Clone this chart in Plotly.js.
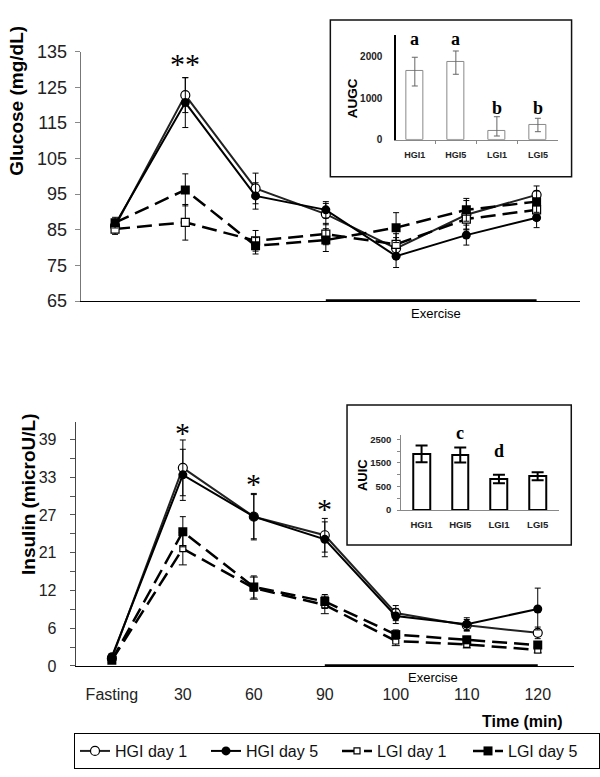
<!DOCTYPE html>
<html>
<head>
<meta charset="utf-8">
<script src="https://cdn.plot.ly/plotly-3.0.1.min.js"></script>
<style>
  body { margin: 0; background: #fff; }
  #myDiv { width: 600px; height: 777px; }
</style>
</head>
<body>
<div id="myDiv"></div>
<script>
// time points (x categories, shared by both panels)
var timeLabels = ['Fasting', '30', '60', '90', '100', '110', '120'];
var exerciseSpan = ['90', '120'];

// glucose, mg/dL
var gluHGI1 = [86.0, 122.8, 96.6, 89.4, 79.8, 89.2, 94.8];
var gluHGI1Err = [1.5, 4.9, 4.3, 3.0, 3.0, 4.0, 2.5];
var gluHGI5 = [86.5, 120.7, 94.5, 90.6, 77.6, 83.5, 88.4];
var gluHGI5Err = [1.5, 7.0, 3.7, 2.3, 3.2, 2.8, 2.8];
var gluLGI1 = [85.2, 87.1, 81.9, 83.8, 80.9, 88.0, 90.6];
var gluLGI1Err = [1.5, 5.0, 2.9, 3.0, 3.0, 3.0, 3.0];
var gluLGI5 = [87.0, 96.2, 80.5, 82.1, 85.6, 90.6, 92.9];
var gluLGI5Err = [1.5, 4.5, 2.3, 3.2, 4.2, 3.2, 3.0];

// insulin (plotted on the evenly spaced axis, ticks relabelled below)
var insHGI1 = [1.3, 34.1, 25.7, 22.5, 9.1, 7.0, 5.7];
var insHGI1Err = [0.5, 4.8, 4.0, 2.9, 1.3, 1.0, 1.0];
var insHGI5 = [1.6, 32.9, 25.7, 21.8, 8.6, 7.2, 9.8];
var insHGI5Err = [0.5, 4.4, 3.8, 3.0, 1.3, 1.1, 3.6];
var insLGI1 = [1.0, 20.2, 13.4, 10.5, 4.3, 3.7, 2.75];
var insLGI1Err = [0.4, 2.8, 1.9, 1.5, 0.8, 0.6, 0.5];
var insLGI5 = [1.0, 23.1, 13.6, 11.1, 5.4, 4.5, 3.6];
var insLGI5Err = [0.4, 2.6, 1.9, 1.2, 0.8, 0.6, 0.5];
var insTickVals = [0, 6.5, 13, 19.5, 26, 32.5, 39];
var insTickText = ['0', '6', '12', '21', '27', '33', '39'];

// significance marks
var gluStarTimes = ['30'];
var insStarTimes = ['30', '60', '90'];

// inset bar charts
var aucGroups = ['HGI1', 'HGI5', 'LGI1', 'LGI5'];
var augc = [1655, 1865, 210, 354];
var augcErrUp = [331, 272, 344, 162];
var augcErrDown = [361, 289, 121, 161];
var augcLetters = ['a', 'a', 'b', 'b'];
var auic = [1981, 1946, 1097, 1191];
var auicErr = [295, 265, 148, 141];
var auicLetters = ['', 'c', 'd', ''];
var auicTickVals = [0, 833.3, 1666.7, 2500];
var auicTickText = ['0', '500', '1500', '2500'];

var sans = 'Arial, "Liberation Sans", sans-serif';
var serif = '"Times New Roman", "Liberation Serif", serif';

function series(name, y, err, style, xa, ya, legend) {
  return {
    x: timeLabels, y: y, name: name,
    xaxis: xa, yaxis: ya,
    mode: 'lines+markers',
    showlegend: legend,
    line: style.line,
    marker: style.marker,
    error_y: { type: 'data', array: err, color: '#000', thickness: 1, width: style.cap }
  };
}

var sHGI1 = { line: { color: '#222', width: 2 }, marker: { symbol: 'circle', size: 9, color: '#fff', line: { color: '#000', width: 1.2 } }, cap: 3 };
var sHGI5 = { line: { color: '#000', width: 2 }, marker: { symbol: 'circle', size: 9, color: '#000' }, cap: 3 };
var sLGI1 = { line: { color: '#000', width: 2.5, dash: '15px,7px' }, marker: { symbol: 'square', size: 8, color: '#fff', line: { color: '#000', width: 1.2 } }, cap: 3 };
var sLGI5 = { line: { color: '#000', width: 2.5, dash: '15px,7px' }, marker: { symbol: 'square', size: 9, color: '#000' }, cap: 3 };

var data = [
  series('HGI day 1', gluHGI1, gluHGI1Err, sHGI1, 'x', 'y', false),
  series('HGI day 5', gluHGI5, gluHGI5Err, sHGI5, 'x', 'y', false),
  series('LGI day 1', gluLGI1, gluLGI1Err, sLGI1, 'x', 'y', false),
  series('LGI day 5', gluLGI5, gluLGI5Err, sLGI5, 'x', 'y', false),
  series('HGI day 1', insHGI1, insHGI1Err, sHGI1, 'x2', 'y2', true),
  series('HGI day 5', insHGI5, insHGI5Err, sHGI5, 'x2', 'y2', true),
  series('LGI day 1', insLGI1, insLGI1Err, { line: sLGI1.line, marker: { symbol: 'square', size: 6, color: '#fff', line: { color: '#000', width: 1.2 } }, cap: 4 }, 'x2', 'y2', true),
  series('LGI day 5', insLGI5, insLGI5Err, sLGI5, 'x2', 'y2', true),
  // exercise period bars
  { x: exerciseSpan, y: [65, 65], xaxis: 'x', yaxis: 'y', mode: 'lines', line: { color: '#000', width: 3.5 }, showlegend: false, cliponaxis: false, hoverinfo: 'skip' },
  { x: exerciseSpan, y: [0, 0], xaxis: 'x2', yaxis: 'y2', mode: 'lines', line: { color: '#000', width: 3.5 }, showlegend: false, cliponaxis: false, hoverinfo: 'skip' },
  // insets
  { type: 'bar', x: aucGroups, y: augc, xaxis: 'x3', yaxis: 'y3', width: 0.4, showlegend: false,
    marker: { color: '#fff', line: { color: '#888', width: 1 } },
    error_y: { type: 'data', symmetric: false, array: augcErrUp, arrayminus: augcErrDown, color: '#666', thickness: 1, width: 3 } },
  { type: 'bar', x: aucGroups, y: auic, xaxis: 'x4', yaxis: 'y4', width: 0.43, showlegend: false,
    marker: { color: '#fff', line: { color: '#000', width: 2 } },
    error_y: { type: 'data', array: auicErr, color: '#000', thickness: 2, width: 6 } }
];

var tickFont = { family: sans, size: 18, color: '#222' };

// text labels (paper / axis positioned)
function label(text, x, y, size, extra) {
  var a = { text: text, xref: 'paper', yref: 'paper', x: x, y: y, showarrow: false,
    xanchor: 'center', yanchor: 'middle', font: { family: sans, size: size, color: '#000' } };
  for (var k in extra) a[k] = extra[k];
  return a;
}

var annotations = [
  label('Glucose (mg/dL)', 0.0267, 0.87, 19, { textangle: -90, font: { family: sans, size: 19, weight: 'bold' } }),
  label('Insulin (microU/L)', 0.0472, 0.3642, 19, { textangle: -90, font: { family: sans, size: 19, weight: 'bold' } }),
  label('Time (min)', 0.8833, 0.0712, 16, { font: { family: sans, size: 16, weight: 'bold' } }),
  label('Exercise', 0.736, 0.5968, 13, {}),
  label('Exercise', 0.7322, 0.1283, 13, {}),
  label('AUGC', 0.5945, 0.8735, 13.5, { textangle: -90, font: { family: sans, size: 13.5, weight: 'bold' } }),
  label('AUIC', 0.6112, 0.3883, 13, { textangle: -90, font: { family: sans, size: 13, weight: 'bold' } })
];

gluStarTimes.forEach(function (t) {
  annotations.push({ text: '**', xref: 'x', yref: 'paper', x: timeLabels.indexOf(t), y: 0.918,
    xanchor: 'center', yanchor: 'middle', showarrow: false, font: { family: serif, size: 30 } });
});
var insStarY = [0.444, 0.378, 0.345];
insStarTimes.forEach(function (t, i) {
  annotations.push({ text: '*', xref: 'x2', yref: 'paper', x: timeLabels.indexOf(t), y: insStarY[i],
    xanchor: 'center', yanchor: 'middle', showarrow: false, font: { family: serif, size: 30 } });
});
augcLetters.forEach(function (t, i) {
  annotations.push({ text: t, xref: 'x3', yref: 'paper', x: i, y: i < 2 ? 0.9494 : 0.8606,
    xanchor: 'center', yanchor: 'middle', showarrow: false, font: { family: serif, size: 18, weight: 'bold' } });
});
auicLetters.forEach(function (t, i) {
  if (!t) return;
  annotations.push({ text: t, xref: 'x4', yref: 'paper', x: i, y: t === 'c' ? 0.4423 : 0.4196,
    xanchor: 'center', yanchor: 'middle', showarrow: false, font: { family: serif, size: 18, weight: 'bold' } });
});

var layout = {
  width: 600, height: 777,
  margin: { l: 0, r: 0, t: 0, b: 0 },
  paper_bgcolor: '#fff', plot_bgcolor: 'rgba(0,0,0,0)',
  font: { family: sans, color: '#000' },
  bargap: 0,
  xaxis: {
    domain: [0.1362, 0.98], anchor: 'y', type: 'category', range: [-0.49, 6.62],
    showticklabels: false, ticks: '', showgrid: false, zeroline: false,
    showline: true, linecolor: '#000', linewidth: 1
  },
  yaxis: {
    domain: [0.6126, 0.9335], anchor: 'x', range: [65, 135],
    tickvals: [65, 75, 85, 95, 105, 115, 125, 135],
    ticks: 'outside', ticklen: 5, tickcolor: '#888', tickfont: tickFont, ticklabelstandoff: 4,
    showgrid: false, zeroline: false, showline: true, linecolor: '#777', linewidth: 1
  },
  xaxis2: {
    domain: [0.1278, 0.9695], anchor: 'y2', type: 'category', range: [-0.51, 6.51],
    ticks: '', tickfont: { family: sans, size: 16, color: '#222' }, ticklabelstandoff: 14,
    showgrid: false, zeroline: false, showline: true, linecolor: '#000', linewidth: 1
  },
  yaxis2: {
    domain: [0.1429, 0.4573], anchor: 'x2', range: [0, 42.05],
    tickmode: 'array', tickvals: insTickVals, ticktext: insTickText,
    ticks: 'outside', ticklen: 5, tickcolor: '#555', tickfont: { family: sans, size: 16, color: '#222' }, ticklabelstandoff: 10,
    minor: { tickmode: 'linear', tick0: 3.25, dtick: 6.5, ticks: 'outside', ticklen: 5, tickcolor: '#555' },
    showgrid: false, zeroline: false, showline: true, linecolor: '#444', linewidth: 1
  },
  xaxis3: {
    domain: [0.6695, 0.9433], anchor: 'y3', type: 'category', range: [-0.45, 3.5],
    ticks: 'outside', tickson: 'boundaries', ticklen: 3, tickcolor: '#888',
    tickfont: { family: sans, size: 9, color: '#222', weight: 'bold' }, ticklabelstandoff: 6,
    showgrid: false, zeroline: false, showline: true, linecolor: '#888', linewidth: 1
  },
  yaxis3: {
    domain: [0.8202, 0.955], anchor: 'x3', range: [0, 2523],
    tickvals: [0, 1000, 2000], ticks: '',
    tickfont: { family: sans, size: 10, color: '#222', weight: 'bold' }, ticklabelstandoff: 10,
    showgrid: false, zeroline: false, showline: true, linecolor: '#000', linewidth: 2
  },
  xaxis4: {
    domain: [0.6778, 0.9445], anchor: 'y4', type: 'category', range: [-0.525, 3.556],
    ticks: '', tickfont: { family: sans, size: 9.5, color: '#222', weight: 'bold' }, ticklabelstandoff: 6,
    showgrid: false, zeroline: false, showline: true, linecolor: '#888', linewidth: 1
  },
  yaxis4: {
    domain: [0.3436, 0.4402], anchor: 'x4', range: [0, 2652],
    tickmode: 'array', tickvals: auicTickVals, ticktext: auicTickText,
    ticks: 'outside', ticklen: 3, tickcolor: '#888',
    minor: { tickmode: 'linear', tick0: 416.67, dtick: 833.33, ticks: 'outside', ticklen: 3, tickcolor: '#888' },
    tickfont: { family: sans, size: 9.5, color: '#222', weight: 'bold' }, ticklabelstandoff: 4,
    showgrid: false, zeroline: false, showline: true, linecolor: '#888', linewidth: 1
  },
  legend: {
    orientation: 'h', x: 0.125, y: 0.0566, xanchor: 'left', yanchor: 'top',
    bordercolor: '#000', borderwidth: 1, bgcolor: '#fff',
    entrywidth: 86, entrywidthmode: 'pixels',
    font: { family: sans, size: 16, color: '#111' }, tracegroupgap: 0
  },
  shapes: [
    { type: 'rect', xref: 'paper', yref: 'paper', x0: 0.558, x1: 0.9655, y0: 0.7726, y1: 0.9743, line: { color: '#111', width: 1.5 } },
    { type: 'rect', xref: 'paper', yref: 'paper', x0: 0.5862, x1: 0.965, y0: 0.2986, y1: 0.4788, line: { color: '#111', width: 1.5 } }
  ],
  annotations: annotations
};

Plotly.newPlot('myDiv', data, layout, { displayModeBar: false });
</script>
</body>
</html>
